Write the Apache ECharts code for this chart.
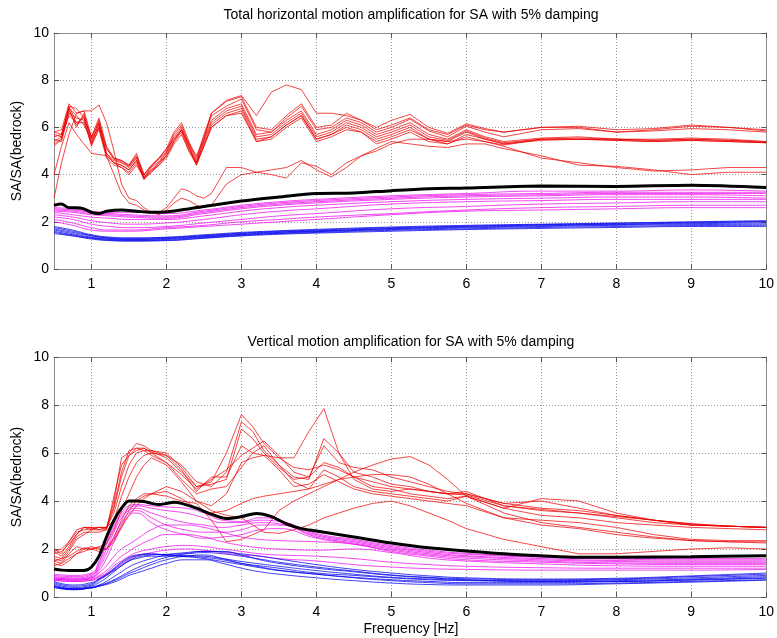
<!DOCTYPE html>
<html><head><meta charset="utf-8">
<script src="https://cdn.jsdelivr.net/npm/echarts@6/dist/echarts.min.js"></script>
<style>html,body{margin:0;padding:0;background:#fff}#c{width:777px;height:638px}</style>
</head><body><div id="c"></div>
<script>
// ---------- DATA ----------
const xTicks = [1,2,3,4,5,6,7,8,9,10];
const yTicks = [0,2,4,6,8,10];
const titleTop = 'Total horizontal motion amplification for SA with 5% damping';
const titleBot = 'Vertical motion amplification for SA with 5% damping';
const yName = 'SA/SA(bedrock)';
const xName = 'Frequency [Hz]';

// --- top panel (horizontal) ---
const freqRedTop = [0.5,0.6,0.7,0.8,0.9,1.0,1.1,1.2,1.3,1.4,1.5,1.6,1.7,1.8,1.9,2.0,2.1,2.2,2.3,2.4,2.5,2.6,2.8,3.0,3.2,3.4,3.6,3.8,4.0,4.2,4.4,4.6,4.8,5.0,5.25,5.5,5.75,6.0,6.25,6.5,7.0,7.5,8.0,8.5,9.0,9.5,10];
const redTopM1 = [5.8,5.9,7.0,6.6,6.7,5.6,6.4,5.2,4.7,4.6,4.4,4.8,4.0,4.4,4.7,5.1,5.8,6.2,5.4,4.7,5.7,6.6,7.1,7.3,6.0,5.9,6.5,7.0,6.0,6.1,6.6,6.3,5.9,6.1,6.4,5.9,5.7,6.1,5.9,5.8,6.0,6.05,5.9,5.95,6.1,6.0,5.85];
const redTopM2 = [5.6,5.7,6.8,6.0,6.6,5.5,6.3,5.1,4.65,4.55,4.35,4.75,3.95,4.35,4.65,5.0,5.7,6.1,5.3,4.6,5.6,6.5,6.9,7.2,5.9,5.8,6.4,6.9,5.9,6.0,6.4,6.2,5.8,6.0,6.35,5.85,5.6,6.05,5.8,5.6,5.9,5.95,5.8,5.85,5.95,5.9,5.8];
const redTopM3 = [5.4,5.6,6.9,6.2,6.4,5.3,6.2,4.9,4.6,4.5,4.3,4.7,3.85,4.3,4.55,4.95,5.6,6.0,5.2,4.5,5.5,6.3,6.8,7.0,5.7,5.8,6.3,6.7,5.7,5.9,6.3,6.1,5.7,5.9,6.2,5.7,5.5,5.9,5.6,5.4,5.55,5.6,5.5,5.5,5.55,5.5,5.4];
const redTopM4 = [5.3,5.5,6.7,6.1,6.5,5.4,6.1,4.8,4.5,4.4,4.2,4.6,3.8,4.2,4.5,4.9,5.5,5.9,5.1,4.5,5.4,6.2,6.7,6.9,5.6,5.7,6.2,6.6,5.6,5.8,6.2,6.0,5.6,5.8,6.1,5.6,5.45,5.85,5.55,5.35,5.5,5.55,5.5,5.45,5.5,5.45,5.35];
const redTopM5 = [5.5,5.4,6.6,6.4,6.3,5.2,6.0,4.9,4.5,4.3,4.1,4.5,3.9,4.2,4.4,4.8,5.4,5.8,5.0,4.4,5.3,6.1,6.6,6.8,5.5,5.6,6.1,6.5,5.5,5.7,6.1,5.9,5.5,5.7,6.0,5.5,5.4,5.8,5.5,5.3,5.45,5.5,5.45,5.4,5.45,5.4,5.35];
const redTopM6 = [5.7,5.6,6.5,6.2,6.2,5.3,5.9,4.7,4.4,4.3,4.0,4.4,3.85,4.1,4.4,4.7,5.3,5.7,5.0,4.5,5.2,6.0,6.5,6.6,5.4,5.5,6.0,6.4,5.4,5.6,5.9,5.8,5.4,5.6,5.9,5.5,5.3,5.7,5.5,5.3,5.5,5.5,5.5,5.45,5.5,5.45,5.4];
const redTopM7 = [5.2,5.5,6.8,6.5,6.1,5.5,6.0,4.8,4.5,4.4,4.2,4.6,3.8,4.1,4.5,4.8,5.4,5.9,5.2,4.4,5.2,6.0,6.5,6.7,5.4,5.6,6.1,6.5,5.5,5.7,6.0,5.8,5.3,5.5,5.8,5.4,5.3,5.6,5.4,5.25,5.5,5.5,5.45,5.4,5.45,5.4,5.35];
const redTopT  = [5.8,5.7,6.9,6.8,6.4,5.6,6.2,5.1,4.7,4.6,4.4,4.9,4.0,4.4,4.7,5.1,5.5,5.9,5.3,4.8,5.5,6.6,7.15,7.35,6.5,7.5,7.8,7.6,6.6,6.6,6.5,6.3,6.0,6.3,6.55,6.0,5.75,6.15,5.95,5.8,6.0,6.0,5.8,5.9,6.05,6.0,5.9];
const redTopE1 = [4.0,5.2,6.2,5.7,5.3,4.9,4.85,4.8,4.0,3.2,2.8,2.7,2.5,2.4,2.4,2.6,3.0,3.4,3.3,3.1,3.0,3.2,4.3,4.3,4.1,4.2,4.3,4.6,4.2,3.9,4.3,4.8,5.0,5.3,5.5,5.5,5.4,5.5,5.4,5.2,4.7,4.5,4.3,4.15,4.2,4.3,4.3];
const redTopE2 = [3.0,4.5,5.7,6.6,6.7,6.7,6.95,6.2,5.0,3.6,3.0,2.9,2.6,2.4,2.3,2.5,2.8,3.0,2.9,2.7,2.6,2.7,3.6,4.0,4.1,4.0,3.85,4.5,4.35,4.0,4.5,4.8,5.1,5.4,5.3,5.2,5.15,5.3,5.3,5.1,4.8,4.4,4.35,4.2,4.0,4.1,4.1];

const freqSmoothTop = [0.5,0.75,1,1.25,1.5,2,2.5,3,3.5,4,5,6,7,8,9,10];
const magTop1 = [2.6,2.55,2.45,2.4,2.4,2.35,2.5,2.7,2.85,2.95,3.1,3.2,3.3,3.3,3.35,3.3];
const magTop2 = [2.55,2.5,2.4,2.35,2.3,2.25,2.45,2.65,2.8,2.9,3.05,3.15,3.2,3.25,3.25,3.25];
const magTop3 = [2.5,2.45,2.35,2.3,2.25,2.2,2.4,2.6,2.75,2.85,3.0,3.1,3.15,3.2,3.2,3.2];
const magTop4 = [2.45,2.4,2.3,2.25,2.2,2.15,2.35,2.55,2.7,2.8,2.95,3.05,3.1,3.15,3.15,3.1];
const magTop5 = [2.4,2.3,2.2,2.15,2.1,2.1,2.25,2.45,2.6,2.7,2.85,2.95,3.0,3.05,3.05,3.0];
const magTop6 = [2.3,2.2,2.05,1.95,1.9,1.95,2.1,2.3,2.45,2.55,2.75,2.85,2.9,2.95,2.95,2.95];
const magTop7 = [2.2,2.1,1.9,1.8,1.75,1.8,1.95,2.1,2.25,2.35,2.55,2.65,2.75,2.8,2.85,2.85];
const magTop8 = [2.1,1.95,1.75,1.65,1.65,1.75,1.85,2.0,2.1,2.2,2.35,2.5,2.6,2.65,2.7,2.7];
const magTop9 = [2.0,1.85,1.65,1.6,1.6,1.7,1.8,1.9,2.0,2.1,2.3,2.45,2.5,2.55,2.6,2.6];
const blueTop1 = [1.8,1.65,1.45,1.35,1.32,1.35,1.45,1.55,1.62,1.68,1.78,1.85,1.9,1.95,2.0,2.05];
const blueTop2 = [1.75,1.6,1.42,1.32,1.3,1.33,1.42,1.52,1.6,1.65,1.75,1.82,1.88,1.93,1.98,2.02];
const blueTop3 = [1.7,1.55,1.4,1.3,1.27,1.3,1.4,1.5,1.57,1.62,1.72,1.8,1.86,1.9,1.95,2.0];
const blueTop4 = [1.65,1.5,1.35,1.27,1.25,1.28,1.37,1.47,1.55,1.6,1.7,1.77,1.83,1.88,1.92,1.95];
const blueTop5 = [1.6,1.45,1.32,1.25,1.22,1.25,1.35,1.45,1.52,1.58,1.67,1.74,1.8,1.85,1.88,1.9];
const blueTop6 = [1.55,1.42,1.3,1.22,1.2,1.22,1.32,1.42,1.5,1.55,1.64,1.7,1.76,1.8,1.84,1.85];
const blueTop7 = [1.5,1.4,1.27,1.2,1.18,1.2,1.3,1.4,1.47,1.52,1.6,1.67,1.72,1.76,1.8,1.8];

const freqBlackTop = [0.5,0.6,0.7,0.8,0.9,1.0,1.1,1.2,1.4,1.6,1.8,2.0,2.2,2.5,3.0,3.5,4.0,4.5,5.0,5.5,6.0,7.0,8.0,9.0,10];
const blackTop = [2.7,2.75,2.6,2.6,2.55,2.4,2.35,2.45,2.5,2.45,2.4,2.42,2.5,2.65,2.88,3.05,3.2,3.22,3.32,3.4,3.43,3.52,3.5,3.55,3.45];

// --- bottom panel (vertical) ---
const freqRedBot = [0.5,0.6,0.7,0.8,0.9,1.0,1.1,1.2,1.3,1.4,1.5,1.6,1.7,1.8,2.0,2.2,2.4,2.6,2.8,3.0,3.15,3.3,3.5,3.7,3.9,4.1,4.3,4.5,4.75,5.0,5.25,5.5,5.75,6.0,6.5,7.0,7.5,8.0,8.5,9.0,9.5,10];
const redBot1 = [2.0,1.8,2.3,2.7,2.8,2.85,2.9,2.85,4.0,5.8,6.0,6.4,6.3,6.1,6.0,5.4,4.6,4.8,6.0,7.6,7.1,6.4,5.8,5.4,5.3,5.5,5.3,5.0,4.8,4.6,4.5,4.4,4.3,4.25,3.8,3.6,3.5,3.35,3.2,3.05,2.95,2.9];
const redBot2 = [1.8,1.9,2.2,2.6,2.9,2.9,2.8,2.8,4.2,5.5,5.9,6.2,6.1,6.1,5.9,5.3,4.4,5.0,5.0,6.3,6.0,5.9,5.8,5.8,6.9,7.85,6.0,4.9,4.5,4.4,4.5,4.4,4.3,4.3,3.9,3.7,3.6,3.4,3.2,3.05,2.95,2.9];
const redBot3 = [1.9,1.7,2.1,2.6,2.9,2.8,2.8,2.9,3.8,5.2,6.1,6.2,6.2,6.0,5.9,5.5,4.8,4.6,5.2,7.3,6.9,6.1,5.5,5.0,4.9,6.6,6.0,5.2,5.0,4.7,4.6,4.4,4.3,4.4,3.8,3.65,3.5,3.3,3.1,3.0,2.95,2.9];
const redBot4 = [1.7,1.6,2.0,2.5,2.7,2.7,2.7,2.8,3.7,5.0,5.9,6.1,6.2,6.05,5.8,5.2,4.6,4.7,4.9,7.0,6.6,6.0,5.4,4.9,5.0,6.3,5.6,5.4,5.3,5.0,4.8,4.6,4.4,4.3,3.9,4.0,3.7,3.4,3.2,3.0,2.95,2.9];
const redBot5 = [1.6,1.5,1.9,2.4,2.6,2.8,2.9,2.9,3.5,4.6,5.5,6.0,6.1,5.9,5.6,5.1,4.5,4.9,5.3,5.9,6.2,6.5,5.9,5.2,5.0,5.6,5.4,5.0,4.6,4.5,4.3,4.2,4.1,4.2,3.7,3.4,3.3,3.1,3.0,2.9,2.85,2.8];
const redBot6 = [1.9,2.0,2.3,2.8,2.9,2.9,2.9,2.9,3.2,4.2,5.0,5.6,5.9,6.0,5.6,4.9,4.3,4.5,4.6,5.4,6.0,6.3,5.5,4.8,4.5,5.3,5.0,4.6,4.4,4.3,4.2,4.1,4.0,4.2,3.7,4.1,4.0,3.5,3.2,3.0,2.95,2.9];
const redBot7 = [1.5,1.4,1.8,2.1,2.0,2.0,2.1,2.2,2.8,3.6,4.3,5.0,5.5,5.8,5.5,4.8,4.0,3.8,4.3,5.6,5.8,5.9,5.3,4.6,4.7,5.1,4.8,4.5,4.3,4.2,4.1,4.0,3.9,3.8,3.3,3.2,3.1,2.9,2.6,2.4,2.35,2.35];
const redBot8 = [1.4,1.3,1.5,1.8,1.9,2.0,2.05,2.0,2.5,3.2,3.8,4.1,4.3,4.3,4.2,4.0,3.9,3.2,2.3,2.4,2.6,2.8,3.6,4.0,4.3,4.6,4.9,5.2,5.5,5.75,5.85,5.5,4.9,4.2,3.5,3.1,2.9,2.7,2.5,2.35,2.3,2.25];
const redBot9 = [1.3,1.4,1.6,1.8,2.0,2.1,2.0,2.0,2.3,2.9,3.4,3.8,4.1,4.3,4.6,4.4,4.0,3.6,3.4,3.3,3.0,2.7,2.65,2.8,3.0,3.3,3.5,3.7,3.9,4.0,3.8,3.5,3.2,2.85,2.4,2.1,1.8,1.8,1.9,2.0,2.05,2.0];
const redBot10 = [1.5,1.6,1.7,1.9,2.05,2.0,1.9,2.0,2.4,3.0,3.6,4.0,4.2,4.3,4.4,4.1,3.7,3.5,3.6,3.9,4.1,4.2,4.3,4.4,4.5,4.7,4.9,5.0,5.1,5.1,5.0,4.7,4.3,3.9,3.3,3.0,2.85,2.6,2.45,2.35,2.3,2.3];

const freqSmoothBot = [0.5,0.75,1.0,1.1,1.2,1.3,1.4,1.5,1.6,1.8,2.0,2.25,2.5,2.75,3.0,3.25,3.5,4.0,4.5,5.0,5.5,6.0,7.0,8.0,9.0,10];
const magBot1 = [0.95,0.9,1.0,1.5,2.3,3.0,3.5,3.8,3.85,3.8,3.75,3.7,3.5,3.2,3.15,3.3,3.2,2.65,2.4,2.15,1.95,1.82,1.68,1.62,1.6,1.6];
const magBot2 = [0.9,0.85,0.95,1.4,2.2,2.9,3.4,3.7,3.8,3.7,3.6,3.5,3.3,3.1,3.1,3.2,3.15,2.6,2.35,2.1,1.9,1.78,1.65,1.58,1.55,1.55];
const magBot3 = [0.85,0.8,0.9,1.3,2.0,2.7,3.3,3.6,3.7,3.5,3.3,3.1,3.0,2.9,3.0,3.1,3.05,2.55,2.3,2.05,1.85,1.72,1.6,1.52,1.5,1.5];
const magBot4 = [0.8,0.75,0.85,1.2,1.8,2.5,3.1,3.5,3.6,3.3,3.0,2.8,2.7,2.7,2.8,3.0,3.0,2.5,2.25,2.0,1.8,1.68,1.55,1.48,1.45,1.45];
const magBot5 = [0.75,0.7,0.8,1.1,1.6,2.3,2.9,3.4,3.5,3.1,2.8,2.6,2.45,2.5,2.6,2.8,2.85,2.45,2.2,1.95,1.75,1.62,1.5,1.42,1.4,1.4];
const magBot6 = [0.8,0.75,0.8,1.0,1.3,1.7,2.0,2.2,2.4,2.8,3.0,3.0,2.9,2.7,2.5,2.4,2.35,2.3,2.2,1.9,1.7,1.55,1.45,1.38,1.35,1.35];
const magBot7 = [0.75,0.7,0.75,0.9,1.1,1.4,1.7,1.9,2.1,2.4,2.6,2.6,2.5,2.3,2.15,2.05,2.0,1.95,2.0,1.85,1.62,1.5,1.38,1.3,1.28,1.28];
const magBot8 = [0.7,0.65,0.7,0.85,1.0,1.3,1.5,1.7,1.85,2.0,2.1,2.15,2.1,2.0,1.9,1.8,1.75,1.7,1.6,1.45,1.35,1.28,1.22,1.2,1.2,1.2];
const magBot9 = [0.7,0.65,0.7,0.8,0.95,1.15,1.35,1.55,1.7,1.85,1.95,2.0,1.95,1.85,1.75,1.7,1.6,1.5,1.35,1.25,1.18,1.15,1.12,1.12,1.12,1.15];
const blueBot1 = [0.6,0.45,0.55,0.75,0.95,1.2,1.45,1.65,1.75,1.8,1.75,1.7,1.65,1.55,1.4,1.3,1.2,1.0,0.9,0.8,0.72,0.68,0.65,0.68,0.75,0.85];
const blueBot2 = [0.55,0.4,0.5,0.7,0.9,1.15,1.4,1.6,1.72,1.78,1.75,1.72,1.7,1.6,1.48,1.38,1.28,1.1,0.95,0.82,0.75,0.7,0.68,0.72,0.8,0.9];
const blueBot3 = [0.5,0.35,0.45,0.6,0.8,1.05,1.3,1.5,1.65,1.75,1.78,1.8,1.85,1.8,1.7,1.58,1.45,1.25,1.08,0.92,0.82,0.76,0.72,0.75,0.85,0.95];
const blueBot4 = [0.45,0.32,0.4,0.5,0.65,0.85,1.05,1.25,1.4,1.6,1.75,1.85,1.9,1.88,1.8,1.7,1.58,1.35,1.15,1.0,0.88,0.8,0.75,0.78,0.88,1.0];
const blueBot5 = [0.45,0.35,0.4,0.48,0.58,0.72,0.88,1.05,1.2,1.45,1.65,1.8,1.9,1.9,1.75,1.55,1.4,1.2,1.05,0.9,0.8,0.72,0.65,0.65,0.72,0.8];
const blueBot6 = [0.4,0.3,0.38,0.45,0.55,0.68,0.82,0.98,1.1,1.35,1.55,1.7,1.75,1.6,1.4,1.25,1.12,0.95,0.8,0.68,0.6,0.55,0.55,0.58,0.65,0.72];
const blueBot7 = [0.4,0.32,0.38,0.45,0.52,0.62,0.75,0.9,1.0,1.2,1.4,1.55,1.55,1.4,1.2,1.05,0.95,0.8,0.68,0.58,0.52,0.5,0.5,0.55,0.62,0.7];
const blueBot8 = [0.65,0.5,0.6,0.75,0.9,1.1,1.3,1.5,1.6,1.7,1.7,1.68,1.6,1.48,1.35,1.22,1.1,0.95,0.82,0.72,0.65,0.6,0.6,0.64,0.7,0.78];

const freqBlackBot = [0.5,0.6,0.7,0.8,0.9,1.0,1.1,1.2,1.3,1.4,1.5,1.6,1.7,1.8,1.9,2.0,2.1,2.2,2.4,2.6,2.8,3.0,3.2,3.4,3.6,3.8,4.0,4.5,5.0,5.5,6.0,6.5,7.0,7.5,8.0,9.0,10];
const blackBot = [1.17,1.12,1.1,1.1,1.1,1.25,1.7,2.5,3.2,3.7,4.0,4.0,3.98,3.9,3.85,3.9,3.95,3.9,3.7,3.45,3.27,3.35,3.48,3.35,3.05,2.85,2.75,2.5,2.25,2.05,1.92,1.8,1.72,1.66,1.66,1.68,1.72];

// ---------- CHART ----------
const FONT = '"Liberation Sans", Arial, Helvetica, sans-serif';
const RED = 'rgba(235,0,0,0.72)';
const MAG = 'rgba(235,0,235,0.72)';
const BLUE = 'rgba(0,0,235,0.75)';
const X_MIN = 0.5, X_MAX = 10;

function zip(xs, ys){ return xs.map((x,i)=>[x, ys[i]]); }
function line(xs, ys, color, width, g, z, smooth){
  return {type:'line', data: zip(xs, ys), xAxisIndex: g*2, yAxisIndex: g*2,
    symbol:'none', showSymbol:false, smooth: smooth || false, silent:true, animation:false, z: z,
    lineStyle:{color: color, width: width}};
}
function xAxes(g){
  return [
    {gridIndex:g, type:'value', min:X_MIN, max:X_MAX, position:'bottom',
     axisLine:{show:true, onZero:false, lineStyle:{color:'#8a8a8a', width:1}},
     axisTick:{show:true, inside:true, length:5, customValues: xTicks, lineStyle:{color:'#555'}},
     axisLabel:{show:true, margin:8, color:'#000', fontSize:14, fontFamily:FONT, customValues: xTicks},
     splitLine:{show:true, lineStyle:{color:'#9a9a9a', width:1, type:[1,2]}}},
    {gridIndex:g, type:'value', min:X_MIN, max:X_MAX, position:'top',
     axisLine:{show:true, onZero:false, lineStyle:{color:'#8a8a8a', width:1}},
     axisTick:{show:true, inside:true, length:5, customValues: xTicks, lineStyle:{color:'#555'}},
     axisLabel:{show:false, customValues: xTicks}, splitLine:{show:false}}
  ];
}
function yAxes(g){
  return [
    {gridIndex:g, type:'value', min:yTicks[0], max:yTicks[yTicks.length-1], interval:2, position:'left',
     axisLine:{show:true, onZero:false, lineStyle:{color:'#8a8a8a', width:1}},
     axisTick:{show:true, inside:true, length:5, lineStyle:{color:'#555'}},
     axisLabel:{show:true, margin:5, color:'#000', fontSize:14, fontFamily:FONT},
     splitLine:{show:true, lineStyle:{color:'#9a9a9a', width:1, type:[1,2]}}},
    {gridIndex:g, type:'value', min:yTicks[0], max:yTicks[yTicks.length-1], interval:2, position:'right',
     axisLine:{show:true, onZero:false, lineStyle:{color:'#8a8a8a', width:1}},
     axisTick:{show:true, inside:true, length:5, lineStyle:{color:'#555'}},
     axisLabel:{show:false}, splitLine:{show:false}}
  ];
}

const series = [];
[redTopM1,redTopM2,redTopM3,redTopM4,redTopM5,redTopM6,redTopM7,redTopT,redTopE1,redTopE2]
  .forEach(v => series.push(line(freqRedTop, v, RED, 1, 0, 2, false)));
[magTop1,magTop2,magTop3,magTop4,magTop5,magTop6,magTop7,magTop8,magTop9]
  .forEach(v => series.push(line(freqSmoothTop, v, MAG, 1, 0, 3, true)));
[blueTop1,blueTop2,blueTop3,blueTop4,blueTop5,blueTop6,blueTop7]
  .forEach(v => series.push(line(freqSmoothTop, v, BLUE, 1, 0, 4, true)));
series.push(line(freqBlackTop, blackTop, '#000', 3, 0, 5, 0.3));

[redBot1,redBot2,redBot3,redBot4,redBot5,redBot6,redBot7,redBot8,redBot9,redBot10]
  .forEach(v => series.push(line(freqRedBot, v, RED, 1, 1, 2, false)));
[magBot1,magBot2,magBot3,magBot4,magBot5,magBot6,magBot7,magBot8,magBot9]
  .forEach(v => series.push(line(freqSmoothBot, v, MAG, 1, 1, 3, true)));
[blueBot1,blueBot2,blueBot3,blueBot4,blueBot5,blueBot6,blueBot7,blueBot8]
  .forEach(v => series.push(line(freqSmoothBot, v, BLUE, 1, 1, 4, true)));
series.push(line(freqBlackBot, blackBot, '#000', 3, 1, 5, 0.3));

function label(text, x, y, rot){
  return {type:'text', x:x, y:y, rotation: rot || 0, silent:true,
    style:{text:text, fill:'#000', font:'14px ' + FONT, textAlign:'center', textVerticalAlign:'middle'}};
}

const chart = echarts.init(document.getElementById('c'), null, {renderer:'canvas'});
chart.setOption({
  backgroundColor:'#fff',
  animation:false,
  grid:[
    {left:54, top:33, width:715, height:236, show:false},
    {left:54, top:357, width:715, height:240, show:false}
  ],
  xAxis: xAxes(0).concat(xAxes(1)),
  yAxis: yAxes(0).concat(yAxes(1)),
  graphic: [
    label(titleTop, 411, 15),
    label(titleBot, 411, 342),
    label(xName, 411, 629),
    label(yName, 17, 151, Math.PI/2),
    label(yName, 17, 477, Math.PI/2)
  ],
  series: series
});
</script></body></html>
